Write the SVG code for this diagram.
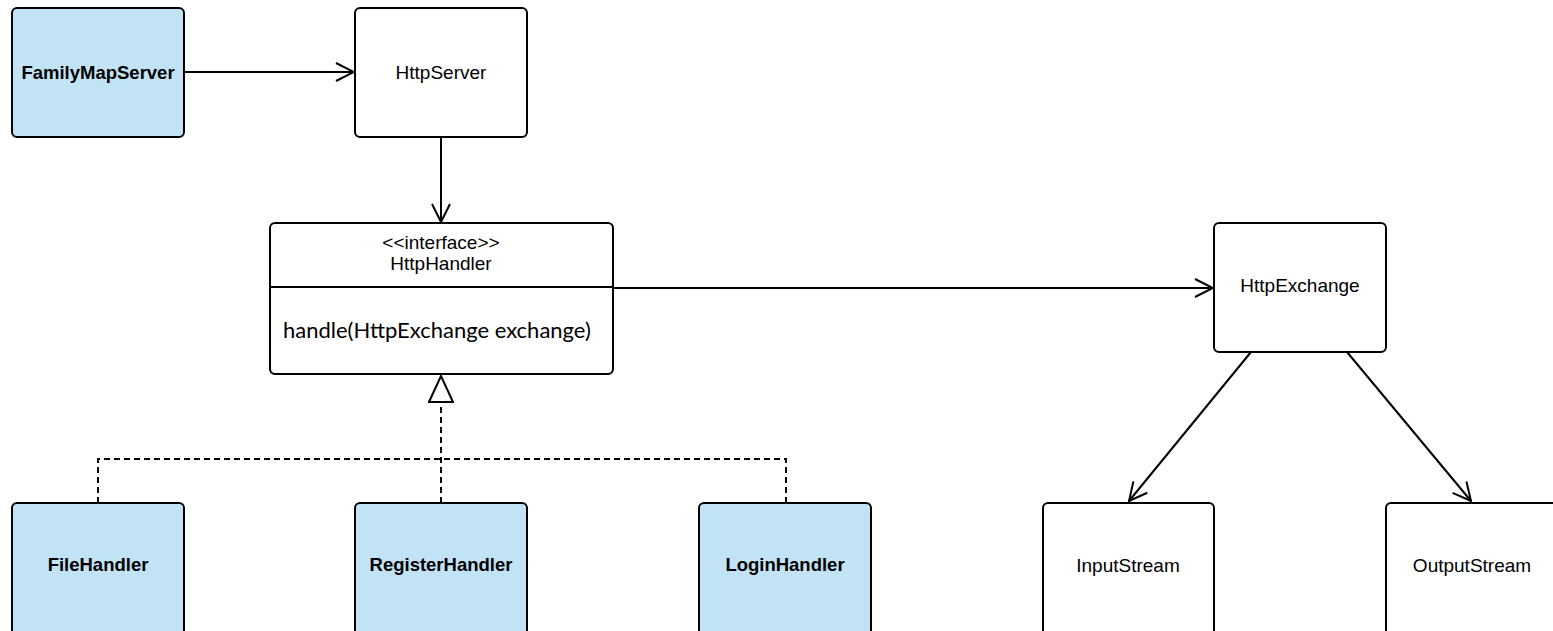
<svg xmlns="http://www.w3.org/2000/svg" width="1553" height="631" viewBox="0 0 1553 631">
  <style>
    .box { stroke: #000; stroke-width: 2; }
    .plain { fill: #fff; }
    .blue { fill: #c2e3f6; }
    .lbl { font-family: "Liberation Sans", Arial, sans-serif; font-size: 19px; fill: #000; text-anchor: middle; }
    .bold { font-weight: bold; font-size: 18.5px; }
    .op { font-family: Lato, "Liberation Sans", sans-serif; font-size: 22px; fill: #000; }
    .edge { stroke: #000; stroke-width: 2; fill: none; }
    .dash { stroke-dasharray: 6 4; }
  </style>
  <defs>
    <marker id="open" viewBox="0 0 20 20" refX="19" refY="10" markerWidth="20" markerHeight="20" markerUnits="userSpaceOnUse" orient="auto">
      <path d="M1 1 L19 10 L1 19" fill="none" stroke="#000" stroke-width="2"/>
    </marker>
    <marker id="realize" viewBox="0 0 30 26" refX="28" refY="13" markerWidth="30" markerHeight="26" markerUnits="userSpaceOnUse" orient="auto">
      <path d="M2 1 L28 13 L2 25 Z" fill="#fff" stroke="#000" stroke-width="2"/>
    </marker>
  </defs>

  <g id="connectors">
    <line class="edge" x1="184" y1="72" x2="354" y2="72" marker-end="url(#open)"/>
    <line class="edge" x1="441" y1="137" x2="441" y2="222" marker-end="url(#open)"/>
    <line class="edge" x1="613" y1="288" x2="1213" y2="288" marker-end="url(#open)"/>
    <line class="edge" x1="1251" y1="352" x2="1129" y2="501" marker-end="url(#open)"/>
    <line class="edge" x1="1347" y1="352" x2="1471" y2="501" marker-end="url(#open)"/>
    <path class="edge dash" d="M441 503 L441 400 L441 376" marker-end="url(#realize)"/>
    <path class="edge dash" d="M98 503 L98 459 L786 459 L786 503"/>
  </g>

  <g id="FamilyMapServer">
    <rect class="box blue" x="12" y="8" width="172" height="129" rx="5"/>
    <text class="lbl bold" x="98" y="79">FamilyMapServer</text>
  </g>
  <g id="HttpServer">
    <rect class="box plain" x="355" y="8" width="172" height="129" rx="5"/>
    <text class="lbl" x="441" y="79">HttpServer</text>
  </g>
  <g id="HttpHandler">
    <rect class="box plain" x="270" y="223" width="343" height="151" rx="5"/>
    <line class="edge" x1="270" y1="287" x2="613" y2="287"/>
    <text class="lbl" x="441" y="249">&lt;&lt;interface&gt;&gt;</text>
    <text class="lbl" x="441" y="270">HttpHandler</text>
    <text class="op" x="283" y="338">handle(HttpExchange exchange)</text>
  </g>
  <g id="HttpExchange">
    <rect class="box plain" x="1214" y="223" width="172" height="129" rx="5"/>
    <text class="lbl" x="1300" y="292">HttpExchange</text>
  </g>
  <g id="InputStream">
    <rect class="box plain" x="1043" y="503" width="171" height="140" rx="5"/>
    <text class="lbl" x="1128" y="572">InputStream</text>
  </g>
  <g id="OutputStream">
    <rect class="box plain" x="1386" y="503" width="180" height="140" rx="5"/>
    <text class="lbl" x="1472" y="572">OutputStream</text>
  </g>
  <g id="FileHandler">
    <rect class="box blue" x="12" y="503" width="172" height="140" rx="5"/>
    <text class="lbl bold" x="98" y="571">FileHandler</text>
  </g>
  <g id="RegisterHandler">
    <rect class="box blue" x="355" y="503" width="172" height="140" rx="5"/>
    <text class="lbl bold" x="441" y="571">RegisterHandler</text>
  </g>
  <g id="LoginHandler">
    <rect class="box blue" x="699" y="503" width="172" height="140" rx="5"/>
    <text class="lbl bold" x="785" y="571">LoginHandler</text>
  </g>
</svg>
